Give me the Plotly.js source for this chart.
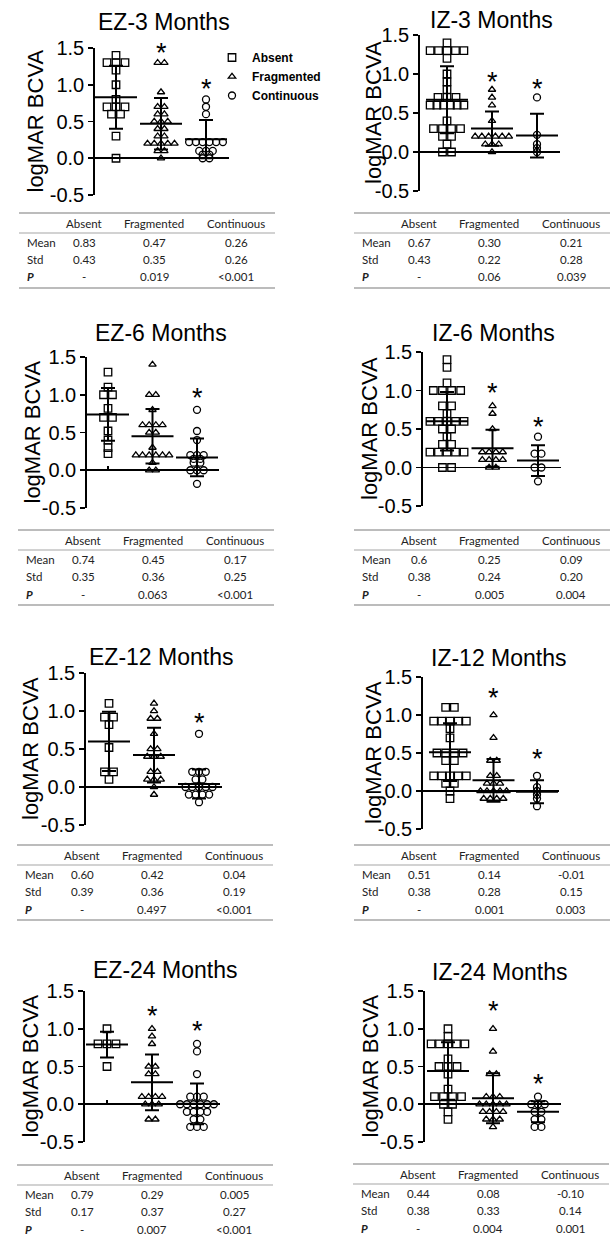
<!DOCTYPE html>
<html><head><meta charset="utf-8">
<script src="https://cdn.plot.ly/plotly-3.0.1.min.js"></script>
<style>html,body{margin:0;padding:0;background:#fff;}#chart{width:611px;height:1235px;}</style>
</head><body><div id="chart"></div>
<script>
// ---------------- DATA ----------------
const categories = ['Absent', 'Fragmented', 'Continuous'];
const rowLabels = ['Mean', 'Std', 'P'];
const yTickVals = [-0.5, 0, 0.5, 1, 1.5];
const yTickText = ['-0.5', '0.0', '0.5', '1.0', '1.5'];
const yLabel = 'logMAR BCVA';

// EZ-3 Months
const EZ3_absent = [1.4, 1.3, 1.3, 1.3, 1.2, 1.0, 0.8, 0.7, 0.7, 0.7, 0.6, 0.6, 0.3, 0.0];
const EZ3_frag = [1.3, 1.3, 0.9, 0.7, 0.7, 0.6, 0.6, 0.5, 0.5, 0.5, 0.4, 0.4, 0.3, 0.3, 0.2, 0.2, 0.2, 0.2, 0.2, 0.1, 0.1, 0.0];
const EZ3_cont = [0.8, 0.7, 0.6, 0.22, 0.22, 0.22, 0.22, 0.22, 0.22, 0.1, 0.1, 0.1, 0.05, 0.05, 0.0, 0.0];
const EZ3_mean = ['0.83', '0.47', '0.26'];
const EZ3_std = ['0.43', '0.35', '0.26'];
const EZ3_p = ['-', '0.019', '<0.001'];
const EZ3_star = [null, 1.51, 1.02];

// IZ-3 Months
const IZ3_absent = [1.4, 1.3, 1.3, 1.3, 1.3, 1.3, 1.2, 1.0, 0.9, 0.8, 0.7, 0.7, 0.7, 0.6, 0.6, 0.6, 0.6, 0.6, 0.6, 0.4, 0.3, 0.3, 0.3, 0.3, 0.2, 0.2, 0.1, 0.0, 0.0];
const IZ3_frag = [0.8, 0.7, 0.6, 0.4, 0.2, 0.2, 0.2, 0.2, 0.2, 0.2, 0.1, 0.1, 0.1, 0.0];
const IZ3_cont = [0.7, 0.22, 0.1, 0.05, 0.0];
const IZ3_mean = ['0.67', '0.30', '0.21'];
const IZ3_std = ['0.43', '0.22', '0.28'];
const IZ3_p = ['-', '0.06', '0.039'];
const IZ3_star = [null, 0.97, 0.88];

// EZ-6 Months
const EZ6_absent = [1.3, 1.1, 1.0, 1.0, 0.82, 0.7, 0.7, 0.52, 0.4, 0.3, 0.22];
const EZ6_frag = [1.4, 1.0, 1.0, 0.8, 0.6, 0.6, 0.6, 0.6, 0.5, 0.5, 0.3, 0.2, 0.2, 0.2, 0.2, 0.2, 0.2, 0.1, 0.0, 0.0];
const EZ6_cont = [0.8, 0.52, 0.4, 0.2, 0.2, 0.2, 0.15, 0.15, 0.1, 0.1, 0.0, 0.0, 0.0, -0.18];
const EZ6_mean = ['0.74', '0.45', '0.17'];
const EZ6_std = ['0.35', '0.36', '0.25'];
const EZ6_p = ['-', '0.063', '<0.001'];
const EZ6_star = [null, null, 1.03];

// IZ-6 Months
const IZ6_absent = [1.4, 1.3, 1.1, 1.0, 1.0, 1.0, 1.0, 0.8, 0.8, 0.7, 0.6, 0.6, 0.6, 0.6, 0.6, 0.5, 0.5, 0.4, 0.3, 0.3, 0.2, 0.2, 0.2, 0.2, 0.2, 0.0, 0.0];
const IZ6_frag = [0.8, 0.7, 0.5, 0.2, 0.2, 0.2, 0.2, 0.1, 0.1, 0.1, 0.1, 0.0, 0.0];
const IZ6_cont = [0.4, 0.18, 0.18, 0.0, 0.0, -0.18];
const IZ6_mean = ['0.6', '0.25', '0.09'];
const IZ6_std = ['0.38', '0.24', '0.20'];
const IZ6_p = ['-', '0.005', '0.004'];
const IZ6_star = [null, 1.05, 0.61];

// EZ-12 Months
const EZ12_absent = [1.1, 0.92, 0.92, 0.82, 0.52, 0.2, 0.2, 0.1];
const EZ12_frag = [1.1, 1.0, 0.9, 0.9, 0.7, 0.5, 0.5, 0.4, 0.4, 0.4, 0.2, 0.2, 0.1, 0.1, 0.1, 0.0, -0.1];
const EZ12_cont = [0.7, 0.2, 0.2, 0.2, 0.1, 0.1, 0.0, 0.0, 0.0, 0.0, 0.0, -0.1, -0.1, -0.1, -0.1, -0.2];
const EZ12_mean = ['0.60', '0.42', '0.04'];
const EZ12_std = ['0.39', '0.36', '0.19'];
const EZ12_p = ['-', '0.497', '<0.001'];
const EZ12_star = [null, null, 0.92];

// IZ-12 Months
const IZ12_absent = [1.1, 1.1, 0.92, 0.92, 0.92, 0.92, 0.92, 0.82, 0.7, 0.5, 0.5, 0.5, 0.5, 0.4, 0.4, 0.2, 0.2, 0.2, 0.2, 0.2, 0.1, 0.1, 0.0, -0.1];
const IZ12_frag = [1.0, 0.7, 0.4, 0.4, 0.2, 0.2, 0.1, 0.1, 0.1, 0.0, 0.0, 0.0, 0.0, 0.0, -0.1, -0.1, -0.1, -0.1];
const IZ12_cont = [0.2, 0.05, 0.0, -0.05, -0.1, -0.2];
const IZ12_mean = ['0.51', '0.14', '-0.01'];
const IZ12_std = ['0.38', '0.28', '0.15'];
const IZ12_p = ['-', '0.001', '0.003'];
const IZ12_star = [null, 1.30, 0.50];

// EZ-24 Months
const EZ24_absent = [1.0, 0.8, 0.8, 0.8, 0.5];
const EZ24_frag = [1.0, 0.9, 0.8, 0.5, 0.5, 0.4, 0.4, 0.1, 0.1, 0.1, 0.1, 0.0, 0.0, 0.0, -0.2, -0.2];
const EZ24_cont = [0.8, 0.7, 0.4, 0.1, 0.1, 0.1, 0.0, 0.0, 0.0, 0.0, 0.0, 0.0, -0.1, -0.1, -0.1, -0.1, -0.2, -0.2, -0.3, -0.3, -0.3];
const EZ24_mean = ['0.79', '0.29', '0.005'];
const EZ24_std = ['0.17', '0.37', '0.27'];
const EZ24_p = ['-', '0.007', '<0.001'];
const EZ24_star = [null, 1.25, 1.05];

// IZ-24 Months
const IZ24_absent = [1.0, 0.9, 0.8, 0.8, 0.8, 0.8, 0.8, 0.6, 0.5, 0.5, 0.5, 0.4, 0.2, 0.1, 0.1, 0.1, 0.1, 0.0, 0.0, -0.1, -0.2];
const IZ24_frag = [1.0, 0.7, 0.4, 0.4, 0.1, 0.1, 0.1, 0.0, 0.0, 0.0, 0.0, 0.0, -0.1, -0.1, -0.1, -0.1, -0.2, -0.2, -0.2, -0.3];
const IZ24_cont = [0.1, 0.0, 0.0, 0.0, -0.1, -0.1, -0.2, -0.2, -0.3, -0.3];
const IZ24_mean = ['0.44', '0.08', '-0.10'];
const IZ24_std = ['0.38', '0.33', '0.14'];
const IZ24_p = ['-', '0.004', '0.001'];
const IZ24_star = [null, 1.32, 0.35];

const panels = [
  {title: 'EZ-3 Months', pts: [EZ3_absent, EZ3_frag, EZ3_cont], mean: EZ3_mean, std: EZ3_std, p: EZ3_p, star: EZ3_star},
  {title: 'IZ-3 Months', pts: [IZ3_absent, IZ3_frag, IZ3_cont], mean: IZ3_mean, std: IZ3_std, p: IZ3_p, star: IZ3_star},
  {title: 'EZ-6 Months', pts: [EZ6_absent, EZ6_frag, EZ6_cont], mean: EZ6_mean, std: EZ6_std, p: EZ6_p, star: EZ6_star},
  {title: 'IZ-6 Months', pts: [IZ6_absent, IZ6_frag, IZ6_cont], mean: IZ6_mean, std: IZ6_std, p: IZ6_p, star: IZ6_star},
  {title: 'EZ-12 Months', pts: [EZ12_absent, EZ12_frag, EZ12_cont], mean: EZ12_mean, std: EZ12_std, p: EZ12_p, star: EZ12_star},
  {title: 'IZ-12 Months', pts: [IZ12_absent, IZ12_frag, IZ12_cont], mean: IZ12_mean, std: IZ12_std, p: IZ12_p, star: IZ12_star},
  {title: 'EZ-24 Months', pts: [EZ24_absent, EZ24_frag, EZ24_cont], mean: EZ24_mean, std: EZ24_std, p: EZ24_p, star: EZ24_star},
  {title: 'IZ-24 Months', pts: [IZ24_absent, IZ24_frag, IZ24_cont], mean: IZ24_mean, std: IZ24_std, p: IZ24_p, star: IZ24_star}
];

// ---------------- LAYOUT GEOMETRY (pixels) ----------------
const W = 611, H = 1235;
const geom = [
  {axisX: 95,  cat0: 116, step: 45,   yTop: 48,  yBot: 195,  tx: 164, ty: 22,  lx: 35,  tabX: 19,  tabY: 213,  xtick: false},
  {axisX: 420, cat0: 447, step: 45,   yTop: 35,  yBot: 191,  tx: 491, ty: 20,  lx: 373, tabX: 354, tabY: 213,  xtick: false},
  {axisX: 87,  cat0: 108, step: 44.5, yTop: 357, yBot: 508,  tx: 161, ty: 333, lx: 32,  tabX: 18,  tabY: 530,  xtick: true},
  {axisX: 423, cat0: 447, step: 45.5, yTop: 352, yBot: 506,  tx: 493, ty: 333, lx: 370, tabX: 354, tabY: 530,  xtick: false},
  {axisX: 86,  cat0: 109, step: 45,   yTop: 673, yBot: 825,  tx: 161, ty: 657, lx: 30,  tabX: 17,  tabY: 845,  xtick: false},
  {axisX: 423, cat0: 450, step: 43.5, yTop: 677, yBot: 829,  tx: 499, ty: 658, lx: 373, tabX: 354, tabY: 845,  xtick: false},
  {axisX: 85,  cat0: 107, step: 45,   yTop: 991, yBot: 1142, tx: 165, ty: 970, lx: 30,  tabX: 17,  tabY: 1165, xtick: true},
  {axisX: 425, cat0: 448, step: 45,   yTop: 991, yBot: 1142, tx: 500, ty: 972, lx: 370, tabX: 353, tabY: 1164, xtick: false}
];
const symbols = ['square-open', 'triangle-up-open', 'circle-open'];
const msize = [7.5, 6.5, 7];
const spreadStep = [0.2, 0.15, 0.15];
const FONT = 'Liberation Sans, Arial, sans-serif';
const TFONT = 'Lato, Open Sans, sans-serif';

function spread(vals, step) {
  const groups = {};
  vals.forEach((v, i) => { (groups[v] = groups[v] || []).push(i); });
  const off = new Array(vals.length).fill(0);
  Object.values(groups).forEach(idx => {
    const k = idx.length;
    if (k < 2) return;
    const s = Math.min(step, 0.75 / (k - 1));
    idx.forEach((ii, j) => { off[ii] = (j - (k - 1) / 2) * s; });
  });
  return off;
}
const px = p => p / W;
const py = p => 1 - p / H;
const esc = s => s.replace(/</g, '&lt;');

const traces = [];
const layout = {
  width: W, height: H,
  margin: {l: 0, r: 0, t: 0, b: 0},
  paper_bgcolor: '#fff', plot_bgcolor: 'rgba(0,0,0,0)',
  font: {family: FONT, color: '#000'},
  showlegend: true,
  legend: {x: px(212), y: py(43), xanchor: 'left', yanchor: 'top',
           font: {family: FONT, size: 12, color: '#000', weight: 'bold'},
           bgcolor: 'rgba(0,0,0,0)', tracegroupgap: 0, itemwidth: 30},
  annotations: [], shapes: []
};

panels.forEach((pn, i) => {
  const g = geom[i];
  const n = i + 1;
  const xs = n === 1 ? '' : String(n);
  const L = (g.axisX - g.cat0) / g.step;
  const xR = g.cat0 + 2.5 * g.step;
  const ppu = (g.yBot - g.yTop) / 2;
  const zeroPx = g.yTop + 1.5 * ppu;
  const xa = {domain: [px(g.axisX), px(xR)], range: [L, 2.5], showgrid: false, zeroline: false,
    showline: false, showticklabels: false, ticks: '', fixedrange: true, anchor: 'y' + xs};
  if (g.xtick) {
    Object.assign(xa, {anchor: 'free', position: py(zeroPx), ticks: 'inside', tickvals: [0], ticklen: 4,
      tickwidth: 1.5, tickcolor: '#000'});
  }
  layout['xaxis' + xs] = xa;
  layout['yaxis' + xs] = {domain: [py(g.yBot), py(g.yTop)], range: [-0.5, 1.5], tickvals: yTickVals, ticktext: yTickText,
    showline: true, linewidth: 1.8, linecolor: '#000', ticks: 'outside', ticklen: 5, tickwidth: 1.8, tickcolor: '#000',
    showgrid: false, zeroline: true, zerolinecolor: '#000', zerolinewidth: 1.6,
    tickfont: {family: FONT, size: 20, color: '#000'}, anchor: 'x' + xs, fixedrange: true};

  pn.pts.forEach((vals, j) => {
    const off = spread(vals, spreadStep[j]);
    traces.push({type: 'scatter', mode: 'markers', xaxis: 'x' + xs, yaxis: 'y' + xs,
      x: vals.map((v, k) => j + off[k]), y: vals, name: categories[j], showlegend: i === 0,
      marker: {symbol: symbols[j], size: msize[j], color: '#000', line: {width: 1.3, color: '#000'}},
      hoverinfo: 'skip', cliponaxis: false});
  });
  traces.push({type: 'scatter', mode: 'markers', xaxis: 'x' + xs, yaxis: 'y' + xs,
    x: [0, 1, 2], y: pn.mean.map(Number), showlegend: false, hoverinfo: 'skip', cliponaxis: false,
    marker: {symbol: 'line-ew', size: 30, color: '#000', line: {width: 2, color: '#000'}},
    error_y: {type: 'data', array: pn.std.map(Number), visible: true, color: '#000', thickness: 2, width: 7}});

  // stars (kept inside the axis range, shifted in pixels when above it)
  pn.star.forEach((s, j) => {
    if (s === null) return;
    const yv = Math.min(s, 1.5);
    const extra = (s - yv) * ppu;
    layout.annotations.push({xref: 'x' + xs, yref: 'y' + xs, x: j, y: yv, text: '*', showarrow: false,
      font: {family: FONT, size: 27, color: '#000'}, yshift: -6 + extra});
  });
  // title
  layout.annotations.push({xref: 'paper', yref: 'paper', x: px(g.tx), y: py(g.ty), text: pn.title, showarrow: false,
    xanchor: 'center', yanchor: 'middle', font: {family: FONT, size: 23, color: '#000'}});
  // y label
  layout.annotations.push({xref: 'paper', yref: 'paper', x: px(g.lx), y: py((g.yTop + g.yBot) / 2), text: yLabel,
    textangle: -90, showarrow: false, xanchor: 'center', yanchor: 'middle', font: {family: FONT, size: 22, color: '#000'}});

  // table
  const tw = 256;
  const colX = [65, 135, 217];
  [[0, 1.6], [20, 1.2], [75, 1.6]].forEach(([dy, w]) => {
    layout.shapes.push({type: 'line', xref: 'paper', yref: 'paper', x0: px(g.tabX), x1: px(g.tabX + tw),
      y0: py(g.tabY + dy), y1: py(g.tabY + dy), line: {color: '#a6a6a6', width: w}});
  });
  const tfont = {family: TFONT, size: 11.5, color: '#222'};
  categories.forEach((c, j) => {
    layout.annotations.push({xref: 'paper', yref: 'paper', x: px(g.tabX + colX[j]), y: py(g.tabY + 10.5), text: c,
      showarrow: false, xanchor: 'center', yanchor: 'middle', font: tfont});
  });
  const rows = [pn.mean, pn.std, pn.p];
  rows.forEach((r, ri) => {
    const yy = py(g.tabY + 29 + ri * 17.5);
    const lbl = ri === 2 ? '<b><i>' + rowLabels[ri] + '</i></b>' : rowLabels[ri];
    layout.annotations.push({xref: 'paper', yref: 'paper', x: px(g.tabX + 6), y: yy, text: lbl,
      showarrow: false, xanchor: 'left', yanchor: 'middle', font: tfont});
    r.forEach((v, j) => {
      layout.annotations.push({xref: 'paper', yref: 'paper', x: px(g.tabX + colX[j]), y: yy, text: esc(v),
        showarrow: false, xanchor: 'center', yanchor: 'middle', font: tfont});
    });
  });
});

Plotly.newPlot('chart', traces, layout, {staticPlot: true, displayModeBar: false});
</script>
</body></html>
